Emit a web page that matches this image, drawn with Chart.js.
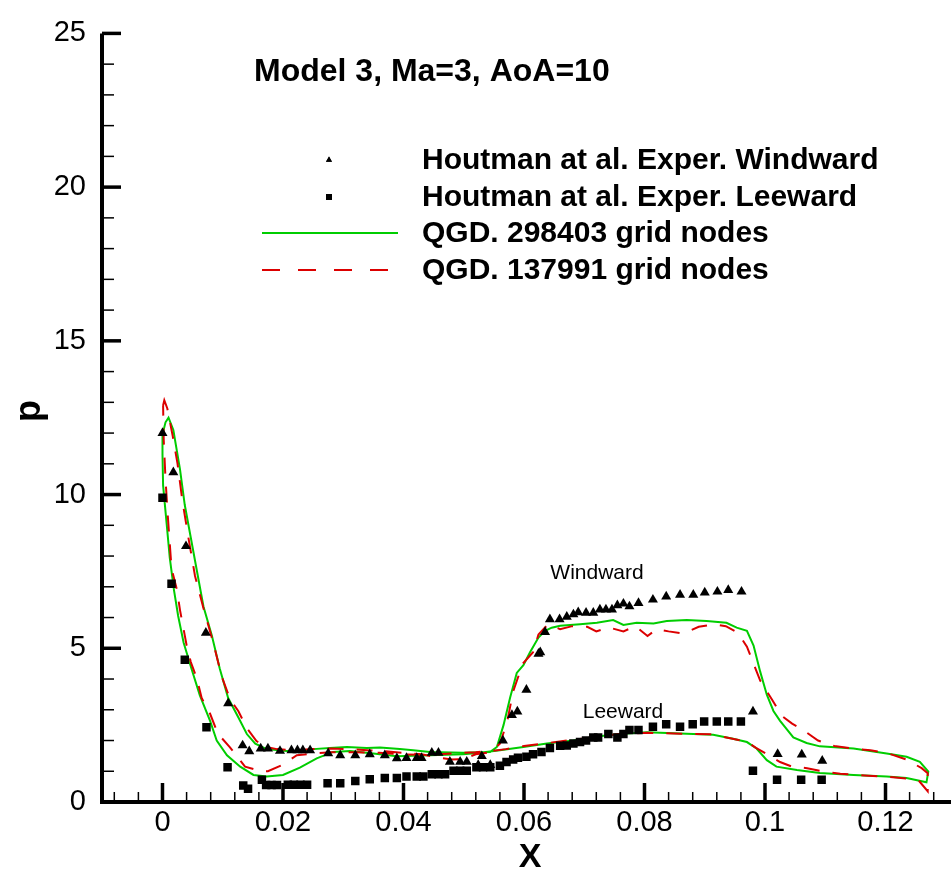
<!DOCTYPE html>
<html>
<head>
<meta charset="utf-8">
<script src="https://cdn.jsdelivr.net/npm/chart.js@4.4.1/dist/chart.umd.min.js"></script>
<style>
  html, body { margin: 0; padding: 0; background: #fff; }
  #wrap { width: 951px; height: 870px; }
</style>
</head>
<body>
<div id="wrap"><canvas id="myChart" width="951" height="870"></canvas></div>
<script>
// axis ticks
const xTicks = [0, 0.02, 0.04, 0.06, 0.08, 0.1, 0.12];
const xTickLabels = ['0', '0.02', '0.04', '0.06', '0.08', '0.1', '0.12'];
const yTicks = [0, 5, 10, 15, 20, 25];

// Houtman et al. experiment, windward (triangles)
const windX = [0, 0.0018, 0.0039, 0.0072, 0.0109, 0.0133, 0.0144, 0.0163, 0.0175, 0.0195, 0.0214, 0.0224, 0.0233, 0.0245,
  0.0275, 0.0295, 0.032, 0.0344, 0.0369, 0.0389, 0.0405, 0.0422, 0.043, 0.0447, 0.0458, 0.0477, 0.0494, 0.0505, 0.0524,
  0.053, 0.0544, 0.0565, 0.058, 0.0589, 0.0604, 0.0624, 0.0627, 0.0635, 0.0643, 0.0659, 0.0671, 0.0682, 0.069, 0.0703,
  0.0715, 0.0726, 0.0736, 0.0746, 0.0755, 0.0765, 0.0775, 0.079, 0.0814, 0.0836, 0.0859, 0.0881, 0.09, 0.0921, 0.0939,
  0.0961, 0.098, 0.1021, 0.1061, 0.1095];
const windP = [12.0, 10.72, 8.32, 5.5, 3.21, 1.84, 1.65, 1.74, 1.74, 1.66, 1.68, 1.68, 1.68, 1.68,
  1.58, 1.52, 1.52, 1.55, 1.52, 1.42, 1.43, 1.43, 1.43, 1.6, 1.6, 1.31, 1.31, 1.31, 1.2,
  1.49, 1.2, 2.0, 2.83, 2.94, 3.65, 4.82, 4.87, 5.53, 5.94, 5.94, 6.02, 6.1, 6.17, 6.15,
  6.15, 6.26, 6.26, 6.26, 6.4, 6.45, 6.36, 6.47, 6.58, 6.68, 6.74, 6.74, 6.81, 6.84, 6.89,
  6.84, 2.94, 1.56, 1.54, 1.34];

// Houtman et al. experiment, leeward (squares)
const leeX = [0, 0.0015, 0.0037, 0.0073, 0.0108, 0.0134, 0.0142, 0.0165, 0.0172, 0.0181, 0.019, 0.0208, 0.0218, 0.0229,
  0.024, 0.0274, 0.0295, 0.032, 0.0344, 0.0369, 0.0389, 0.0405, 0.0422, 0.0433, 0.0447, 0.0458, 0.0469, 0.0483, 0.0494,
  0.0505, 0.0521, 0.0532, 0.0544, 0.056, 0.0571, 0.0582, 0.059, 0.0604, 0.0615, 0.0629, 0.0643, 0.066, 0.0671, 0.0682,
  0.0693, 0.0703, 0.0715, 0.0723, 0.074, 0.0755, 0.0765, 0.0775, 0.079, 0.0814, 0.0836, 0.0859, 0.088, 0.0899, 0.092,
  0.0939, 0.096, 0.098, 0.102, 0.106, 0.1094];
const leeP = [9.9, 7.1, 4.63, 2.43, 1.13, 0.54, 0.43, 0.72, 0.55, 0.55, 0.55, 0.56, 0.56, 0.56,
  0.56, 0.61, 0.61, 0.68, 0.74, 0.78, 0.78, 0.83, 0.83, 0.83, 0.9, 0.9, 0.9, 1.02, 1.02,
  1.02, 1.13, 1.13, 1.13, 1.18, 1.3, 1.38, 1.44, 1.47, 1.55, 1.63, 1.76, 1.83, 1.84, 1.9,
  1.95, 2.0, 2.1, 2.1, 2.21, 2.1, 2.21, 2.34, 2.34, 2.45, 2.53, 2.45, 2.53, 2.62, 2.62,
  2.62, 2.62, 1.02, 0.72, 0.72, 0.72];

// QGD 298403 nodes: windward from the nose, then leeward back to it
const fineX = [0, 0.0005, 0.001, 0.0018, 0.0029, 0.0037, 0.0046, 0.0057, 0.0068, 0.0082, 0.0095, 0.0109, 0.0126, 0.014,
  0.0154, 0.0173, 0.0206, 0.0228, 0.025, 0.0278, 0.0306, 0.0339, 0.0361, 0.0394, 0.0416, 0.0444, 0.0499, 0.0544, 0.0555,
  0.0566, 0.0577, 0.0588, 0.0599, 0.061, 0.0624, 0.0635, 0.0646, 0.066, 0.0693, 0.0721, 0.0748, 0.0765, 0.0787, 0.0815,
  0.0837, 0.087, 0.0903, 0.0936, 0.0953, 0.097, 0.0981, 0.0992, 0.1003, 0.1014, 0.1025, 0.1047, 0.1069, 0.1091, 0.1147,
  0.1202, 0.1235, 0.1257, 0.1271, 0.1268,
  0.1235, 0.1202, 0.1147, 0.1091, 0.1053, 0.1019, 0.1003, 0.0986, 0.097, 0.0947, 0.0914, 0.0859, 0.0804, 0.0759, 0.0721,
  0.0682, 0.0638, 0.0599, 0.056, 0.0527, 0.0499, 0.0444, 0.0389, 0.035, 0.0311, 0.0283, 0.0256, 0.0228, 0.02, 0.0173,
  0.0151, 0.0129, 0.0107, 0.009, 0.0079, 0.0062, 0.0048, 0.0035, 0.0026, 0.0019, 0.0012, 0.0007, 0.0001, 0, 0];
const fineP = [11.95, 12.35, 12.5, 12.1, 10.83, 9.66, 8.7, 7.53, 6.36, 5.41, 4.34, 3.38, 2.75, 2.21,
  1.9, 1.72, 1.66, 1.66, 1.72, 1.76, 1.79, 1.76, 1.77, 1.72, 1.68, 1.63, 1.6, 1.63, 1.79,
  2.5, 3.4, 4.2, 4.45, 4.87, 5.35, 5.57, 5.67, 5.73, 5.78, 5.83, 5.92, 5.76, 5.83, 5.81,
  5.89, 5.92, 5.89, 5.83, 5.67, 5.57, 5.09, 4.24, 3.49, 2.96, 2.64, 2.1, 1.92, 1.81, 1.74,
  1.58, 1.47, 1.31, 0.99, 0.64,
  0.78, 0.83, 0.88, 0.94, 1.04, 1.15, 1.36, 1.74, 1.95, 2.06, 2.19, 2.23, 2.27, 2.21, 2.13,
  2.0, 1.9, 1.79, 1.68, 1.6, 1.55, 1.52, 1.49, 1.58, 1.66, 1.63, 1.42, 1.12, 0.88, 0.83,
  0.88, 1.15, 1.52, 2.0, 2.64, 3.47, 4.34, 5.19, 6.05, 6.9, 7.96, 9.03, 10.3, 11.3, 11.95];

// QGD 137991 nodes: same path order
const coarseX = [0.0001, 0.0003, 0.0008, 0.0012, 0.0017, 0.0025, 0.0033, 0.0043, 0.0054, 0.0068, 0.0084, 0.0098, 0.0112,
  0.0126, 0.014, 0.0156, 0.017, 0.019, 0.022, 0.025, 0.028, 0.031, 0.034, 0.037, 0.04, 0.043, 0.0455, 0.048, 0.05, 0.052,
  0.0545, 0.056, 0.0572, 0.0582, 0.0598, 0.0615, 0.0624, 0.064, 0.066, 0.068, 0.0705, 0.072, 0.074, 0.0765, 0.0785,
  0.0805, 0.082, 0.084, 0.0865, 0.089, 0.0915, 0.0935, 0.0955, 0.097, 0.0983, 0.0992, 0.1011, 0.1028, 0.1045, 0.1061,
  0.1088, 0.1115, 0.1147, 0.1175, 0.1202, 0.1235, 0.126, 0.127, 0.127,
  0.1255, 0.1235, 0.1202, 0.1165, 0.1125, 0.1095, 0.107, 0.1045, 0.1025, 0.1008, 0.0985, 0.097, 0.094, 0.091, 0.086,
  0.0805, 0.076, 0.072, 0.068, 0.064, 0.06, 0.057, 0.0545, 0.052, 0.048, 0.044, 0.04, 0.036, 0.032, 0.028, 0.025, 0.0223,
  0.0198, 0.0175, 0.0165, 0.0137, 0.0112, 0.0092, 0.0079, 0.0065, 0.0057, 0.0047, 0.004, 0.0034, 0.0029, 0.0024, 0.0015,
  0.0009, 0.0005, 0.0002, 0.0001];
const coarseP = [12.9, 13.07, 12.8, 12.4, 11.9, 11.0, 9.8, 8.6, 7.35, 6.3, 5.2, 4.1, 3.35,
  2.95, 2.4, 1.98, 1.8, 1.72, 1.68, 1.72, 1.74, 1.72, 1.68, 1.65, 1.6, 1.55, 1.45, 1.38, 1.4, 1.55,
  1.62, 1.9, 2.6, 3.6, 4.5, 4.87, 5.45, 5.78, 5.62, 5.72, 5.7, 5.55, 5.68, 5.55, 5.72,
  5.4, 5.62, 5.55, 5.48, 5.7, 5.78, 5.72, 5.5, 5.05, 4.4, 3.95, 3.35, 2.8, 2.55, 2.37,
  2.0, 1.82, 1.74, 1.68, 1.6, 1.38, 1.1, 0.94, 0.35,
  0.7, 0.76, 0.82, 0.86, 0.92, 1.0, 1.1, 1.15, 1.3, 1.5, 1.76, 1.96, 2.08, 2.2, 2.22,
  2.25, 2.22, 2.12, 2.02, 1.92, 1.82, 1.72, 1.66, 1.62, 1.58, 1.53, 1.55, 1.6, 1.62, 1.62, 1.58, 1.52,
  1.2, 1.0, 0.99, 1.15, 1.78, 2.22, 2.87, 3.38, 4.02, 4.55, 5.1, 5.73, 6.25, 6.9, 7.6,
  9.25, 10.5, 11.8, 12.9];

function pts(xs, ys) {
  return xs.map((v, i) => ({ x: v, y: ys[i] }));
}

const FONT = '"Liberation Sans", Arial, Helvetica, sans-serif';
const GREEN = 'rgb(0, 205, 0)';
const RED = 'rgb(220, 0, 0)';

// tecplot style frame: inward ticks, labels in the plot, legend
const frame = {
  id: 'frame',
  afterDraw(chart) {
    const ctx = chart.ctx;
    const area = chart.chartArea;
    const x = chart.scales.x;
    const y = chart.scales.y;
    ctx.save();
    ctx.strokeStyle = '#000';
    ctx.lineCap = 'butt';

    // axis lines
    ctx.lineWidth = 4;
    ctx.beginPath();
    ctx.moveTo(area.left, area.top);
    ctx.lineTo(area.left, area.bottom + 2);
    ctx.moveTo(area.left - 2, area.bottom);
    ctx.lineTo(area.right, area.bottom);
    ctx.stroke();

    // x ticks
    for (let k = -2; k <= 32; k++) {
      const v = k * 0.004;
      const px = x.getPixelForValue(v);
      if (px < area.left + 4 || px > area.right) continue;
      const major = k % 5 === 0;
      ctx.lineWidth = major ? 3.5 : 1.5;
      ctx.beginPath();
      ctx.moveTo(px, area.bottom);
      ctx.lineTo(px, area.bottom - (major ? 19 : 10));
      ctx.stroke();
    }
    // y ticks
    for (let v = 1; v <= 25; v++) {
      const py = y.getPixelForValue(v);
      const major = v % 5 === 0;
      ctx.lineWidth = major ? 3.5 : 1.5;
      ctx.beginPath();
      ctx.moveTo(area.left, py);
      ctx.lineTo(area.left + (major ? 19 : 12), py);
      ctx.stroke();
    }

    ctx.fillStyle = '#000';
    ctx.textBaseline = 'alphabetic';

    // axis titles
    ctx.font = 'bold 34px ' + FONT;
    ctx.textAlign = 'center';
    ctx.fillText('X', 530, 867);
    ctx.save();
    ctx.translate(30, 411);
    ctx.rotate(-Math.PI / 2);
    ctx.font = 'bold 36px ' + FONT;
    ctx.textBaseline = 'middle';
    ctx.fillText('p', 0, 0);
    ctx.restore();

    // title
    ctx.textAlign = 'left';
    ctx.font = 'bold 32px ' + FONT;
    ctx.fillText('Model 3, Ma=3, AoA=10', 254, 81);

    // annotations
    ctx.textAlign = 'center';
    ctx.font = '21px ' + FONT;
    ctx.fillText('Windward', 597, 579);
    ctx.fillText('Leeward', 623, 718);

    // legend
    const rows = [160, 197, 233, 270];
    const names = ['Houtman at al. Exper. Windward', 'Houtman at al. Exper. Leeward',
      'QGD. 298403 grid nodes', 'QGD. 137991 grid nodes'];
    ctx.textAlign = 'left';
    ctx.textBaseline = 'middle';
    ctx.font = 'bold 30px ' + FONT;
    names.forEach((n, i) => ctx.fillText(n, 422, rows[i] + 1));

    Chart.helpers.drawPoint(ctx, { pointStyle: 'triangle', radius: 3.5, borderWidth: 0, rotation: 0 }, 329, rows[0]);
    ctx.fill();
    ctx.fillRect(326, rows[1] - 3, 6, 6);

    ctx.lineWidth = 2;
    ctx.strokeStyle = GREEN;
    ctx.beginPath();
    ctx.moveTo(262, rows[2]);
    ctx.lineTo(398, rows[2]);
    ctx.stroke();
    ctx.strokeStyle = RED;
    ctx.setLineDash([18, 18]);
    ctx.beginPath();
    ctx.moveTo(262, rows[3]);
    ctx.lineTo(390, rows[3]);
    ctx.stroke();
    ctx.restore();
  }
};

var ctx = document.getElementById('myChart').getContext('2d');
var chart = new Chart(ctx, {
  type: 'scatter',
  data: {
    datasets: [
      {
        label: 'Houtman at al. Exper. Windward',
        data: pts(windX, windP),
        pointStyle: 'triangle',
        pointRadius: 5.8,
        backgroundColor: '#000',
        borderWidth: 0
      },
      {
        label: 'Houtman at al. Exper. Leeward',
        data: pts(leeX, leeP),
        pointStyle: 'rect',
        pointRadius: 6,
        backgroundColor: '#000',
        borderWidth: 0
      },
      {
        label: 'QGD. 137991 grid nodes',
        data: pts(coarseX, coarseP),
        showLine: true,
        borderColor: RED,
        borderWidth: 2,
        borderDash: [16, 13],
        pointRadius: 0,
        tension: 0
      },
      {
        label: 'QGD. 298403 grid nodes',
        data: pts(fineX, fineP),
        showLine: true,
        borderColor: GREEN,
        borderWidth: 2,
        pointRadius: 0,
        tension: 0
      }
    ]
  },
  options: {
    responsive: false,
    maintainAspectRatio: false,
    animation: false,
    layout: { autoPadding: false, padding: { top: 19, right: 0, left: 0, bottom: 0 } },
    plugins: { legend: { display: false }, tooltip: { enabled: false } },
    scales: {
      x: {
        type: 'linear',
        min: -0.01004,
        max: 0.13087,
        afterBuildTicks: s => { s.ticks = xTicks.map(v => ({ value: v })); },
        afterFit: s => { s.height = 68; },
        grid: { display: false, drawTicks: false },
        border: { display: false },
        ticks: {
          padding: 4,
          color: '#000',
          font: { family: FONT, size: 29 },
          maxRotation: 0,
          callback: (v) => xTickLabels[xTicks.indexOf(v)]
        }
      },
      y: {
        type: 'linear',
        min: 0,
        max: 25,
        afterBuildTicks: s => { s.ticks = yTicks.map(v => ({ value: v })); },
        afterFit: s => { s.width = 102; },
        grid: { display: false, drawTicks: false },
        border: { display: false },
        ticks: {
          padding: 16,
          color: '#000',
          font: { family: FONT, size: 29 }
        }
      }
    }
  },
  plugins: [frame]
});
</script>
</body>
</html>
